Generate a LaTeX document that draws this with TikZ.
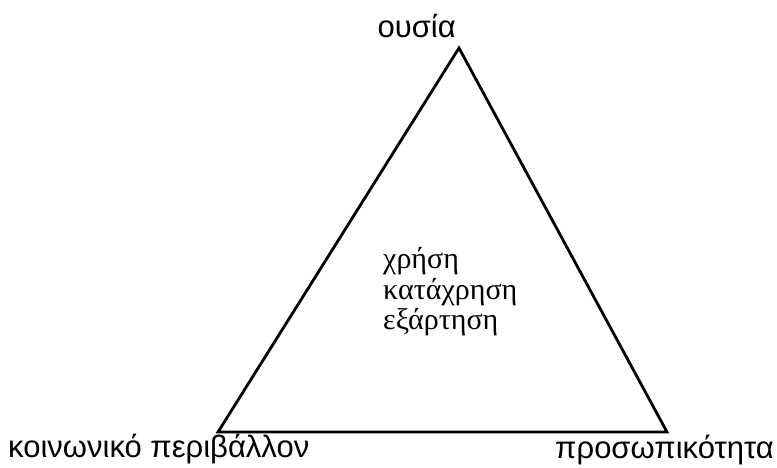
\documentclass[tikz,border=0pt]{standalone}
\usepackage{fontspec}
\setmainfont{Liberation Serif}
\newfontfamily\labelfont{Liberation Sans}
\begin{document}
\begin{tikzpicture}[x=1pt,y=-1pt,
  lbl/.style={inner sep=0pt,font=\labelfont\fontsize{31}{34}\selectfont},
  inner/.style={inner sep=0pt,anchor=base west,font=\fontsize{30}{32}\selectfont},
  edge/.style={line width=2.8pt,line join=miter}]
\useasboundingbox (0,0) rectangle (777,467);
\coordinate (top) at (459,48);
\coordinate (bl) at (218,432);
\coordinate (br) at (667,432);
\draw[edge] (top) -- (bl) -- (br) -- cycle;
\node[lbl,anchor=base east] (ousia) at (456,37) {ουσία};
\node[lbl,anchor=base west] (koin) at (8,457) {κοινωνικό περιβάλλον};
\node[lbl,anchor=base east] (pros) at (774,458) {προσωπικότητα};
\node[inner] (c1) at (383,268) {χρήση};
\node[inner] (c2) at (383,299) {κατάχρηση};
\node[inner] (c3) at (383,329) {εξάρτηση};
\end{tikzpicture}
\end{document}
